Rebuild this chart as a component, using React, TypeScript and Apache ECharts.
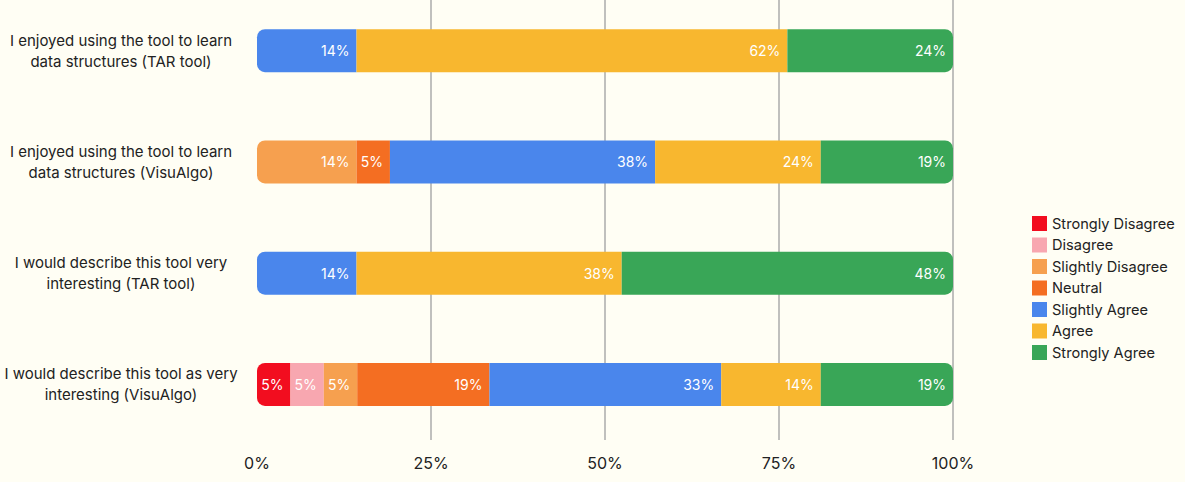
import React, { useEffect, useRef } from "react";
import * as echarts from "echarts";

const categories = [
  "I enjoyed using the tool to learn\ndata structures (TAR tool)",
  "I enjoyed using the tool to learn\ndata structures (VisuAlgo)",
  "I would describe this tool very\ninteresting (TAR tool)",
  "I would describe this tool as very\ninteresting (VisuAlgo)",
];
const seriesNames = [
  "Strongly Disagree",
  "Disagree",
  "Slightly Disagree",
  "Neutral",
  "Slightly Agree",
  "Agree",
  "Strongly Agree",
];
const stronglyDisagree = [0, 0, 0, 4.8];
const disagree = [0, 0, 0, 4.8];
const slightlyDisagree = [0, 14.3, 0, 4.8];
const neutral = [0, 4.8, 0, 19.0];
const slightlyAgree = [14.3, 38.1, 14.3, 33.3];
const agree = [61.9, 23.8, 38.1, 14.3];
const stronglyAgree = [23.8, 19.0, 47.6, 19.0];
const xTicks = [0, 25, 50, 75, 100];

const colors = ["#f20d1f", "#f8a7b0", "#f6a04f", "#f46e22", "#4a86ec", "#f8b72f", "#39a657"];

export default function App() {
  const ref = useRef<HTMLDivElement>(null);
  useEffect(() => {
    const chart = echarts.init(ref.current!, undefined, { renderer: "svg" });
    const all = [stronglyDisagree, disagree, slightlyDisagree, neutral, slightlyAgree, agree, stronglyAgree];
    const R = 8;
    const series = all.map((vals, si) => ({
      name: seriesNames[si],
      type: "bar",
      stack: "total",
      barWidth: 43,
      itemStyle: { color: colors[si] },
      label: {
        show: true,
        position: "insideRight",
        distance: 7,
        color: "#ffffff",
        fontFamily: "Inter",
        fontSize: 14,
        formatter: (p: any) => (p.value > 0 ? Math.round(p.value) + "%" : ""),
      },
      data: vals.map((v, ci) => {
        let first = -1;
        let last = -1;
        all.forEach((s, k) => {
          if (s[ci] > 0) {
            if (first < 0) first = k;
            last = k;
          }
        });
        const br = [0, 0, 0, 0];
        if (si === first) {
          br[0] = R;
          br[3] = R;
        }
        if (si === last) {
          br[1] = R;
          br[2] = R;
        }
        return { value: v === 0 ? null : v, itemStyle: { borderRadius: br } };
      }),
    }));
    chart.setOption({
      animation: false,
      backgroundColor: "#fffef4",
      textStyle: { fontFamily: "Inter" },
      legend: {
        orient: "vertical",
        left: 1027,
        top: 216,
        itemWidth: 15,
        itemHeight: 15,
        itemGap: 6.5,
        icon: "rect",
        textStyle: { fontFamily: "Inter", fontSize: 14.6, color: "#222" },
        data: seriesNames,
      },
      grid: { left: 257, right: 232, top: 0, bottom: 43, containLabel: false },
      xAxis: {
        type: "value",
        min: 0,
        max: 100,
        interval: 25,
        axisLine: { show: false },
        axisTick: { show: false },
        splitLine: { show: true, showMinLine: false, lineStyle: { color: "#ababab", width: 1.5 } },
        axisLabel: {
          formatter: (v: number) => (xTicks.includes(v) ? v + "%" : ""),
          fontFamily: "Inter",
          fontSize: 16,
          color: "#222",
          margin: 15,
        },
      },
      yAxis: {
        type: "category",
        inverse: true,
        data: categories,
        axisLine: { show: false },
        axisTick: { show: false },
        axisLabel: {
          fontFamily: "Inter",
          fontSize: 15,
          color: "#222",
          lineHeight: 21,
          align: "center",
          margin: 136,
        },
      },
      series,
    });
    return () => chart.dispose();
  }, []);
  return <div ref={ref} style={{ width: 1185, height: 488, position: "fixed", left: 0, top: -5 }} />;
}
